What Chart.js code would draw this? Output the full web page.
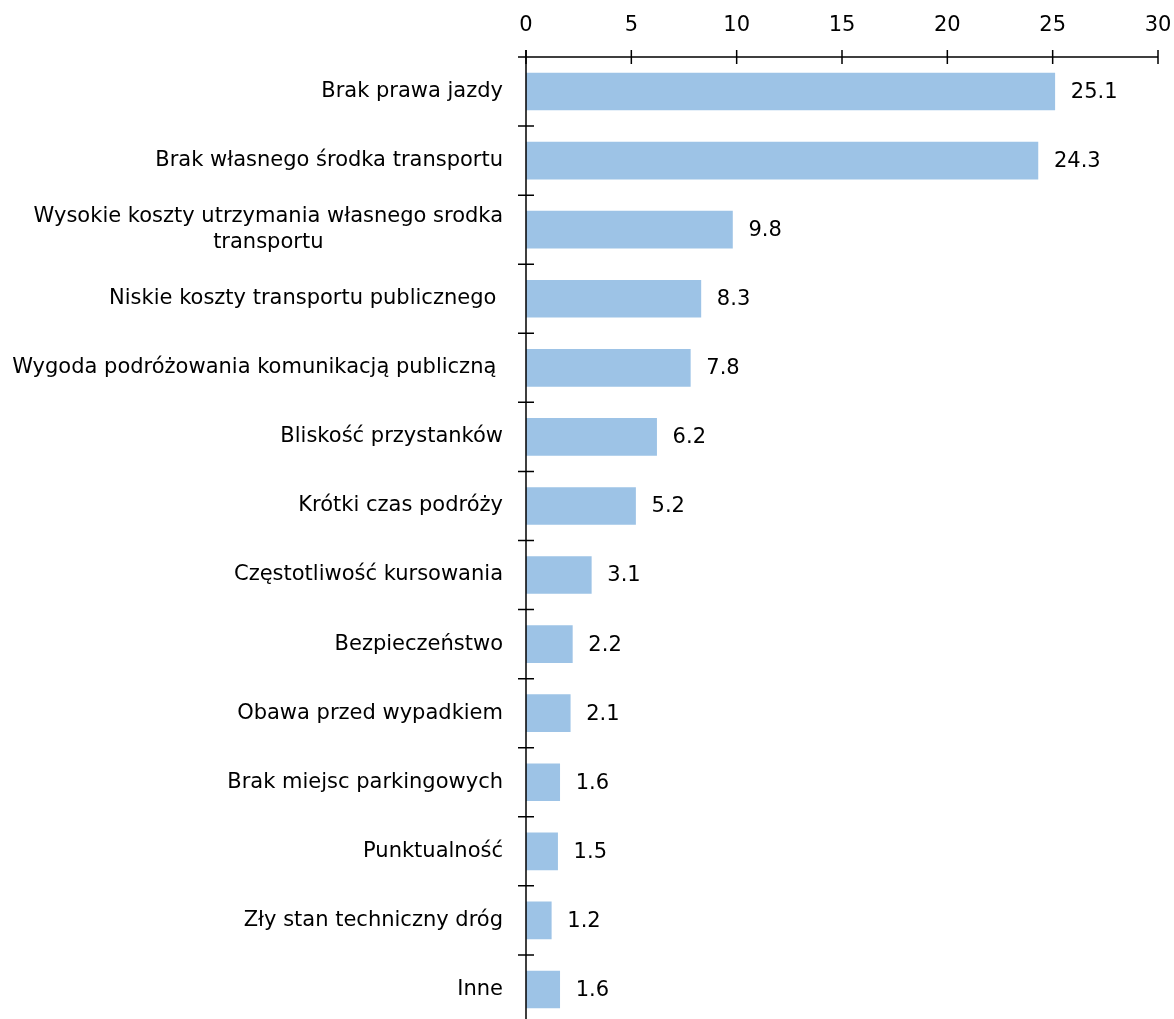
<!DOCTYPE html>
<html>
<head>
<meta charset="utf-8">
<script src="https://cdn.jsdelivr.net/npm/chart.js@4.4.0/dist/chart.umd.min.js"></script>
<style>
  html, body { margin: 0; padding: 0; background: #fff; overflow: hidden; }
  #wrap { width: 1174px; height: 1019px; overflow: hidden; }
</style>
</head>
<body>
<div id="wrap"><canvas id="chart" width="1174" height="1024"></canvas></div>
<script>
// Data for the chart
const categories = [
    ['Brak prawa jazdy'],
    ['Brak własnego środka transportu'],
    ['Wysokie koszty utrzymania własnego srodka', 'transportu'],
    ['Niskie koszty transportu publicznego '],
    ['Wygoda podróżowania komunikacją publiczną '],
    ['Bliskość przystanków'],
    ['Krótki czas podróży'],
    ['Częstotliwość kursowania'],
    ['Bezpieczeństwo'],
    ['Obawa przed wypadkiem'],
    ['Brak miejsc parkingowych'],
    ['Punktualność'],
    ['Zły stan techniczny dróg'],
    ['Inne']
];
const values = [25.1, 24.3, 9.8, 8.3, 7.8, 6.2, 5.2, 3.1, 2.2, 2.1, 1.6, 1.5, 1.2, 1.6];
const xTicks = [0, 5, 10, 15, 20, 25, 30];

const FONT = '"DejaVu Sans", Verdana, sans-serif';
const FS = 21;

// axes, tick marks, category labels and value labels
const decor = {
    id: 'decor',
    afterDraw(chart) {
        const ctx = chart.ctx;
        const area = chart.chartArea;
        const xs = chart.scales.x;
        const ys = chart.scales.y;
        ctx.save();
        ctx.strokeStyle = '#000';
        ctx.lineWidth = 1.5;
        // axis lines
        ctx.beginPath();
        ctx.moveTo(area.left, area.top - 7);
        ctx.lineTo(area.left, area.bottom);
        ctx.moveTo(area.left - 8, area.top);
        ctx.lineTo(xs.getPixelForValue(30), area.top);
        ctx.stroke();
        // x ticks
        ctx.beginPath();
        xTicks.forEach(v => {
            const px = xs.getPixelForValue(v);
            ctx.moveTo(px, area.top - 7);
            ctx.lineTo(px, area.top + 7);
        });
        // y ticks between categories
        const band = (ys.getPixelForValue(1) - ys.getPixelForValue(0));
        for (let i = 1; i < categories.length; i++) {
            const py = ys.getPixelForValue(i) - band / 2;
            ctx.moveTo(area.left - 8, py);
            ctx.lineTo(area.left + 8, py);
        }
        ctx.stroke();

        ctx.fillStyle = '#000';
        ctx.font = FS + 'px ' + FONT;
        // x tick labels
        ctx.textAlign = 'center';
        ctx.textBaseline = 'middle';
        xTicks.forEach(v => {
            ctx.fillText(String(v), xs.getPixelForValue(v), 26);
        });
        // category labels
        const right = area.left - 23;
        const lh = 26;
        categories.forEach((lines, i) => {
            const cy = ys.getPixelForValue(i);
            const w = Math.max(...lines.map(l => ctx.measureText(l).width));
            const cx = right - w / 2;
            lines.forEach((l, j) => {
                ctx.fillText(l, cx, cy + (j - (lines.length - 1) / 2) * lh);
            });
        });
        // value labels
        ctx.textAlign = 'left';
        const meta = chart.getDatasetMeta(0);
        meta.data.forEach((bar, i) => {
            ctx.fillText(values[i].toFixed(1), bar.x + 16, bar.y + 1);
        });
        ctx.restore();
    }
};

window.onload = function() {
    new Chart(document.getElementById('chart'), {
        type: 'bar',
        data: {
            labels: categories,
            datasets: [{
                data: values,
                backgroundColor: '#9DC3E6',
                borderWidth: 0,
                barThickness: 37
            }]
        },
        options: {
            indexAxis: 'y',
            responsive: false,
            animation: false,
            layout: { padding: { left: 0, right: 16, top: 0, bottom: 0 } },
            plugins: {
                legend: { display: false },
                tooltip: { enabled: false }
            },
            scales: {
                x: {
                    position: 'top',
                    min: 0,
                    max: 30,
                    ticks: { display: false, stepSize: 5 },
                    grid: { display: false },
                    border: { display: false },
                    afterFit: s => { s.height = 57; }
                },
                y: {
                    ticks: { display: false },
                    grid: { display: false },
                    border: { display: false },
                    afterFit: s => { s.width = 526; }
                }
            }
        },
        plugins: [decor]
    });
};
</script>
</body>
</html>
